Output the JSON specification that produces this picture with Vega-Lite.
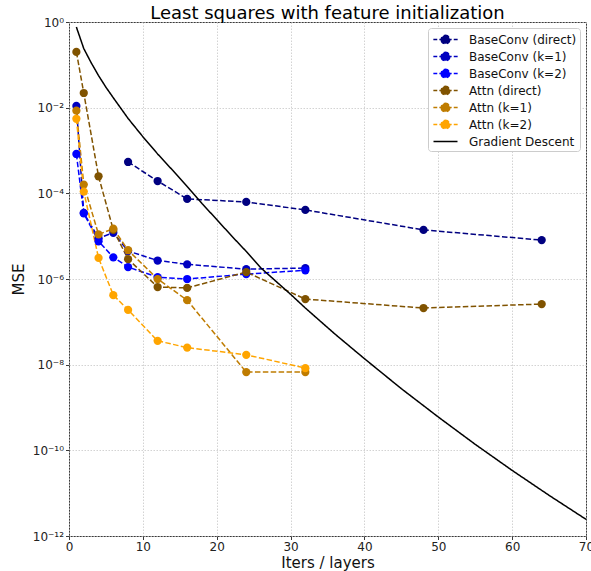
{
  "$schema": "https://vega.github.io/schema/vega-lite/v6.json",
  "width": 517,
  "height": 514,
  "autosize": "none",
  "padding": {"left": 69, "top": 22, "right": 5, "bottom": 35},
  "background": "white",
  "title": {"text": "Least squares with feature initialization", "fontSize": 18, "font": "DejaVu Sans", "fontWeight": "normal", "color": "#000000", "offset": -7, "anchor": "middle"},
  "config": {
    "view": {"stroke": "#3a3a3a", "strokeWidth": 1},
    "axis": {"labelFont": "DejaVu Sans", "titleFont": "DejaVu Sans", "labelFontSize": 12, "titleFontSize": 15, "titleFontWeight": "normal", "labelColor": "#222222", "titleColor": "#111111", "tickColor": "#3a3a3a", "tickSize": 3.5, "domain": false, "gridColor": "#c8c8c8", "gridDash": [1.5, 1.5], "gridWidth": 0.8, "labelFlush": false},
    "legend": {"orient": "top-right", "offset": 6, "padding": 3, "symbolOffset": 6, "labelOffset": 15, "rowPadding": 1, "labelFontSize": 12, "labelFont": "DejaVu Sans", "labelColor": "#111111", "strokeColor": "#cccccc", "fillColor": "#ffffff", "cornerRadius": 3, "symbolSize": 225}
  },
  "data": {"values": [
    {"s": "BaseConv (direct)", "x": 8, "y": 5.4e-4},
    {"s": "BaseConv (direct)", "x": 12, "y": 1.94e-4},
    {"s": "BaseConv (direct)", "x": 16, "y": 7.4e-5},
    {"s": "BaseConv (direct)", "x": 24, "y": 6.3e-5},
    {"s": "BaseConv (direct)", "x": 32, "y": 4.1e-5},
    {"s": "BaseConv (direct)", "x": 48, "y": 1.4e-5},
    {"s": "BaseConv (direct)", "x": 64, "y": 8.1e-6},
    {"s": "BaseConv (k=1)", "x": 1, "y": 1.1e-2},
    {"s": "BaseConv (k=1)", "x": 2, "y": 3.5e-5},
    {"s": "BaseConv (k=1)", "x": 4, "y": 9e-6},
    {"s": "BaseConv (k=1)", "x": 6, "y": 1.2e-5},
    {"s": "BaseConv (k=1)", "x": 8, "y": 4.5e-6},
    {"s": "BaseConv (k=1)", "x": 12, "y": 2.7e-6},
    {"s": "BaseConv (k=1)", "x": 16, "y": 2.2e-6},
    {"s": "BaseConv (k=1)", "x": 24, "y": 1.7e-6},
    {"s": "BaseConv (k=1)", "x": 32, "y": 1.8e-6},
    {"s": "BaseConv (k=2)", "x": 1, "y": 8.3e-4},
    {"s": "BaseConv (k=2)", "x": 2, "y": 3.4e-5},
    {"s": "BaseConv (k=2)", "x": 4, "y": 7.6e-6},
    {"s": "BaseConv (k=2)", "x": 6, "y": 3.2e-6},
    {"s": "BaseConv (k=2)", "x": 8, "y": 1.9e-6},
    {"s": "BaseConv (k=2)", "x": 12, "y": 1.1e-6},
    {"s": "BaseConv (k=2)", "x": 16, "y": 1.0e-6},
    {"s": "BaseConv (k=2)", "x": 24, "y": 1.3e-6},
    {"s": "BaseConv (k=2)", "x": 32, "y": 1.6e-6},
    {"s": "Attn (direct)", "x": 1, "y": 0.2},
    {"s": "Attn (direct)", "x": 2, "y": 2.2e-2},
    {"s": "Attn (direct)", "x": 4, "y": 2.5e-4},
    {"s": "Attn (direct)", "x": 6, "y": 1.4e-5},
    {"s": "Attn (direct)", "x": 8, "y": 2.9e-6},
    {"s": "Attn (direct)", "x": 12, "y": 6.5e-7},
    {"s": "Attn (direct)", "x": 16, "y": 6.2e-7},
    {"s": "Attn (direct)", "x": 24, "y": 1.45e-6},
    {"s": "Attn (direct)", "x": 32, "y": 3.4e-7},
    {"s": "Attn (direct)", "x": 48, "y": 2.1e-7},
    {"s": "Attn (direct)", "x": 64, "y": 2.6e-7},
    {"s": "Attn (k=1)", "x": 1, "y": 8.5e-3},
    {"s": "Attn (k=1)", "x": 2, "y": 1.6e-4},
    {"s": "Attn (k=1)", "x": 4, "y": 1.1e-5},
    {"s": "Attn (k=1)", "x": 6, "y": 1.5e-5},
    {"s": "Attn (k=1)", "x": 8, "y": 4.7e-6},
    {"s": "Attn (k=1)", "x": 12, "y": 1.0e-6},
    {"s": "Attn (k=1)", "x": 16, "y": 3.2e-7},
    {"s": "Attn (k=1)", "x": 24, "y": 6.7e-9},
    {"s": "Attn (k=1)", "x": 32, "y": 6.7e-9},
    {"s": "Attn (k=2)", "x": 1, "y": 5.5e-3},
    {"s": "Attn (k=2)", "x": 2, "y": 1.1e-4},
    {"s": "Attn (k=2)", "x": 4, "y": 3.1e-6},
    {"s": "Attn (k=2)", "x": 6, "y": 4.2e-7},
    {"s": "Attn (k=2)", "x": 8, "y": 1.9e-7},
    {"s": "Attn (k=2)", "x": 12, "y": 3.6e-8},
    {"s": "Attn (k=2)", "x": 16, "y": 2.5e-8},
    {"s": "Attn (k=2)", "x": 24, "y": 1.7e-8},
    {"s": "Attn (k=2)", "x": 32, "y": 8.3e-9},
    {"s": "Gradient Descent", "x": 1, "y": 0.76},
    {"s": "Gradient Descent", "x": 2, "y": 0.24},
    {"s": "Gradient Descent", "x": 3, "y": 0.112},
    {"s": "Gradient Descent", "x": 4, "y": 0.056},
    {"s": "Gradient Descent", "x": 5, "y": 0.030},
    {"s": "Gradient Descent", "x": 6, "y": 0.017},
    {"s": "Gradient Descent", "x": 8, "y": 5.6e-3},
    {"s": "Gradient Descent", "x": 10, "y": 2.1e-3},
    {"s": "Gradient Descent", "x": 12, "y": 8.3e-4},
    {"s": "Gradient Descent", "x": 14, "y": 3.5e-4},
    {"s": "Gradient Descent", "x": 16, "y": 1.45e-4},
    {"s": "Gradient Descent", "x": 18, "y": 5.8e-5},
    {"s": "Gradient Descent", "x": 20, "y": 2.45e-5},
    {"s": "Gradient Descent", "x": 22, "y": 1.02e-5},
    {"s": "Gradient Descent", "x": 24, "y": 4.4e-6},
    {"s": "Gradient Descent", "x": 26, "y": 1.8e-6},
    {"s": "Gradient Descent", "x": 28, "y": 8.9e-7},
    {"s": "Gradient Descent", "x": 30, "y": 4.4e-7},
    {"s": "Gradient Descent", "x": 32, "y": 2.1e-7},
    {"s": "Gradient Descent", "x": 36, "y": 5.2e-8},
    {"s": "Gradient Descent", "x": 40, "y": 1.38e-8},
    {"s": "Gradient Descent", "x": 45, "y": 2.75e-9},
    {"s": "Gradient Descent", "x": 50, "y": 6.0e-10},
    {"s": "Gradient Descent", "x": 55, "y": 1.38e-10},
    {"s": "Gradient Descent", "x": 60, "y": 3.4e-11},
    {"s": "Gradient Descent", "x": 65, "y": 8.9e-12},
    {"s": "Gradient Descent", "x": 70, "y": 2.45e-12}
  ]},
  "encoding": {
    "x": {"field": "x", "type": "quantitative", "scale": {"domain": [0, 70], "nice": false, "zero": false},
      "axis": {"values": [0, 10, 20, 30, 40, 50, 60, 70], "title": "Iters / layers", "titleY": 31, "titleBaseline": "alphabetic", "labelPadding": 1.5, "labelFlush": false}},
    "y": {"field": "y", "type": "quantitative", "scale": {"type": "log", "domain": [1e-12, 1], "nice": false},
      "axis": {"values": [1e-12, 1e-10, 1e-8, 1e-6, 1e-4, 1e-2, 1], "labelPadding": 2, "labelFlush": false,
        "labelExpr": "datum.value > 0.5 ? '10⁰' : datum.value > 0.005 ? '10⁻²' : datum.value > 5e-5 ? '10⁻⁴' : datum.value > 5e-7 ? '10⁻⁶' : datum.value > 5e-9 ? '10⁻⁸' : datum.value > 5e-11 ? '10⁻¹⁰' : '10⁻¹²'",
        "title": "MSE", "titleX": -51, "titleY": 257, "titleAngle": -90, "titleAlign": "center", "titleBaseline": "middle"}},
    "color": {"field": "s", "type": "nominal",
      "scale": {"domain": ["BaseConv (direct)", "BaseConv (k=1)", "BaseConv (k=2)", "Attn (direct)", "Attn (k=1)", "Attn (k=2)", "Gradient Descent"],
        "range": ["#000080", "#0000c0", "#0000ff", "#805300", "#bf7c00", "#ffa500", "#000000"]},
      "legend": {"title": null,
        "encode": {"symbols": {"update": {
          "shape": {"signal": "datum.value === 'Gradient Descent' ? 'M-1.6,0H1.6' : 'M-1.62,0H-1.1M-0.82,0H0.82M1.1,0H1.62M-0.57,0A0.57,0.57 0 1,0 0.57,0A0.57,0.57 0 1,0 -0.57,0'"},
          "fill": {"scale": "color", "field": "value"},
          "stroke": {"scale": "color", "field": "value"},
          "strokeWidth": {"value": 1.5},
          "opacity": {"value": 1},
          "fillOpacity": {"value": 1}
        }}}}}
  },
  "layer": [
    {"mark": {"type": "line", "strokeWidth": 1.5},
     "encoding": {
       "strokeDash": {"field": "s", "type": "nominal",
         "scale": {"domain": ["BaseConv (direct)", "BaseConv (k=1)", "BaseConv (k=2)", "Attn (direct)", "Attn (k=1)", "Attn (k=2)", "Gradient Descent"],
           "range": [[5.5, 2.4], [5.5, 2.4], [5.5, 2.4], [5.5, 2.4], [5.5, 2.4], [5.5, 2.4], [1, 0]]},
         "legend": null}}},
    {"mark": {"type": "point", "filled": true, "size": 68, "opacity": 1},
     "transform": [{"filter": "datum.s !== 'Gradient Descent'"}],
     "encoding": {}}
  ]
}
